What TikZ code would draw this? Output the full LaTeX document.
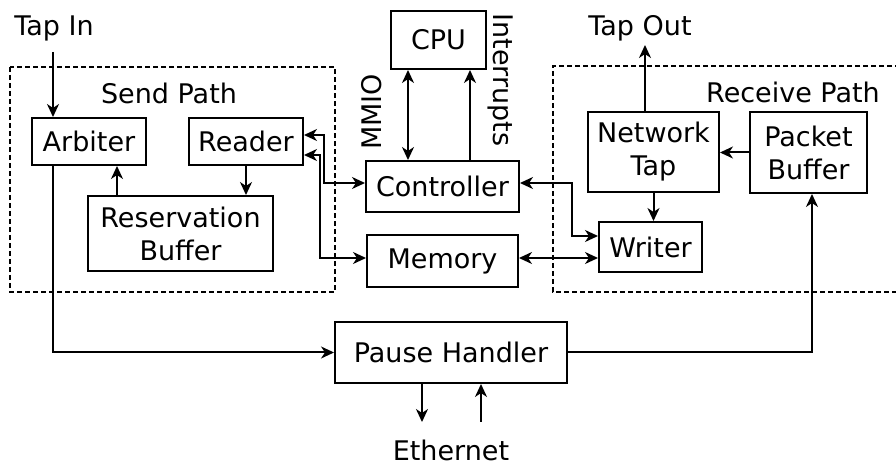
\documentclass[tikz,border=0pt]{standalone}
\usepackage{fontspec}
\setmainfont{DejaVu Sans}
\usetikzlibrary{arrows.meta}
\begin{document}
\begin{tikzpicture}[x=0.5pt,y=-0.5pt,
  every node/.style={font=\fontsize{13.5}{16.5}\selectfont, inner sep=0pt},
  box/.style={draw, line width=1pt, align=center},
  lbl/.style={},
  tip/.tip={Stealth[length=6.5pt,width=6pt,inset=2pt]},
  arr/.style={line width=1pt, -tip},
  darr/.style={line width=1pt, tip-tip},
  region/.style={line width=0.9pt, dash pattern=on 2.5pt off 1.5pt}]
\useasboundingbox (0,0) rectangle (896,465);
% regions
\draw[region] (10,67) rectangle (335,292);
\draw[region] (900,66) -- (553,66) -- (553,292) -- (900,292);
\node[lbl] (sendlbl) at (169,93) {Send Path};
\node[lbl] (recvlbl) at (793,92) {Receive Path};
% boxes
\node[box, minimum width=57pt, minimum height=23.5pt] (arbiter) at (89,141.5) {Arbiter};
\node[box, minimum width=57pt, minimum height=23.5pt] (reader) at (246,141.5) {Reader};
\node[box, minimum width=92.5pt, minimum height=37.5pt] (resbuf) at (180.5,233.5) {Reservation\\Buffer};
\node[box, minimum width=47.5pt, minimum height=29pt] (cpu) at (438.5,40) {CPU};
\node[box, minimum width=76.5pt, minimum height=25.5pt] (controller) at (442.5,186.5) {Controller};
\node[box, minimum width=75.5pt, minimum height=26pt] (memory) at (442.5,261) {Memory};
\node[box, minimum width=65.5pt, minimum height=40pt] (nettap) at (653.5,152) {Network\\Tap};
\node[box, minimum width=58.5pt, minimum height=40.5pt] (pbuf) at (808.5,152.5) {Packet\\Buffer};
\node[box, minimum width=51.5pt, minimum height=25pt] (writer) at (650.5,247) {Writer};
\node[box, minimum width=116pt, minimum height=30.5pt] (pause) at (451,352.5) {Pause Handler};
% text labels
\node[lbl] (tapin) at (54,28) {Tap In};
\node[lbl] (tapout) at (640,28) {Tap Out};
\node[lbl, rotate=90] (mmio) at (372,112) {MMIO};
\node[lbl, rotate=-90] (intr) at (501,80) {Interrupts};
\node[lbl] (eth) at (451,450) {Ethernet};
% helper coordinates
\coordinate (ti) at (53,52);
\coordinate (ax) at (53,0);
\coordinate (rx) at (117,0);
\coordinate (mx) at (408,0);
\coordinate (ix) at (470,0);
\coordinate (to) at (645,45);
\coordinate (px) at (812,0);
\coordinate (e1) at (422,422);
\coordinate (e2) at (481,422);
% connectors
\draw[arr] (ti) -- (ti |- arbiter.north);
\draw[arr] (ax |- arbiter.south) |- (pause.west);
\draw[arr] (rx |- resbuf.north) -- (rx |- arbiter.south);
\draw[arr] (reader.south) -- (reader.south |- resbuf.north);
\draw[darr] ([yshift=3.25pt]reader.east) -- ++(10pt,0) |- ([yshift=1.75pt]controller.west);
\draw[darr] ([yshift=-6.75pt]reader.east) -- ++(8pt,0) |- ([yshift=1.5pt]memory.west);
\draw[darr] (mx |- cpu.south) -- (mx |- controller.north);
\draw[arr] (ix |- controller.north) -- (ix |- cpu.south);
\draw[darr] ([yshift=1.75pt]controller.east) -- ++(26pt,0) |- ([yshift=5.5pt]writer.west);
\draw[darr] ([yshift=1.5pt]memory.east) -- ([yshift=1.5pt]memory.east -| writer.west);
\draw[arr] (pbuf.west) -- (pbuf.west -| nettap.east);
\draw[arr] (nettap.south) -- (nettap.south |- writer.north);
\draw[arr] (to |- nettap.north) -- (to);
\draw[arr] (pause.east) -| (px |- pbuf.south);
\draw[arr] (e1 |- pause.south) -- (e1);
\draw[arr] (e2) -- (e2 |- pause.south);
\end{tikzpicture}
\end{document}
